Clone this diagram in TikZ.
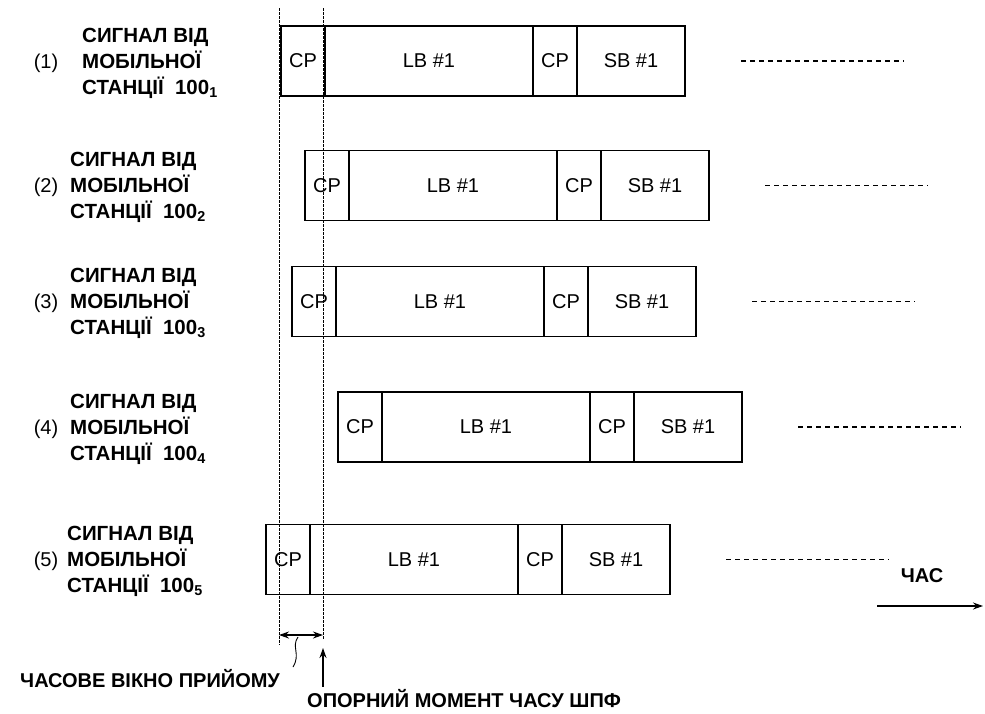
\documentclass[tikz,border=0pt]{standalone}
\usepackage{fontspec}
\setmainfont{Liberation Sans}
\usetikzlibrary{positioning,arrows.meta}

\begin{document}
\begin{tikzpicture}[x=1pt, y=-1pt,
  seg/.style={draw, line width=1.3pt, minimum height=70pt, inner sep=0, outer sep=0,
              font=\fontsize{20}{22}\selectfont},
  sig/.style={align=left, inner sep=0, font=\fontsize{20.5}{26}\selectfont\bfseries},
  num/.style={inner sep=0, font=\fontsize{20}{22}\selectfont},
  lab/.style={inner sep=0, font=\fontsize{20}{24}\selectfont\bfseries},
  trail/.style={line width=1.6pt, dash pattern=on 5pt off 4pt},
  guide/.style={line width=0.8pt, dash pattern=on 3pt off 1pt},
  arr/.style={-{Stealth[length=10pt, width=7pt]}, line width=1.2pt},
  dbl/.style={{Stealth[length=10pt, width=7pt]}-{Stealth[length=10pt, width=7pt]}, line width=1.2pt}]
\useasboundingbox (0,0) rectangle (985,713);
\foreach \r/\bx/\y/\tx in {1/281/61/82, 2/305/185.5/70, 3/292/301.5/70,
                           4/338/427/70, 5/266/559.5/67} {
  \node[seg, minimum width=44pt, anchor=west] (cpa\r) at (\bx,\y) {CP};
  \node[seg, minimum width=208pt, right=0pt of cpa\r] (lb\r) {LB \#1};
  \node[seg, minimum width=44pt, right=0pt of lb\r] (cpb\r) {CP};
  \node[seg, minimum width=108pt, right=0pt of cpb\r] (sb\r) {SB \#1};
  \draw[trail] ([xshift=56pt]sb\r.east) -- ++(163pt,0);
  \node[sig, anchor=west] (s\r) at (\tx,\y+2) {СИГНАЛ ВІД\\МОБІЛЬНОЇ\\СТАНЦІЇ\ \ 100\textsubscript{\r}};
  \node[num] (n\r) at (46,\y+2) {(\r)};
}
\coordinate (gl0) at (279,8);
\coordinate (gl1) at (279,645);
\coordinate (gr0) at (323,8);
\coordinate (gr1) at (323,640);
\draw[guide] (gl0) -- (gl1);
\draw[guide] (gr0) -- (gr1);
\coordinate (wl) at (279,635);
\coordinate (wr) at (323,635);
\coordinate (wm) at (298,637);
\coordinate (sq) at (293,667);
\coordinate (rt) at (323,648);
\draw[dbl] (wl) -- (wr);
\draw[line width=0.9pt] (wm) .. controls (291,647) and (301,654) .. (sq);
\node[lab, anchor=west] (win) at (20,679) {ЧАСОВЕ ВІКНО ПРИЙОМУ};
\node[lab, anchor=west] (ref) at (307,699) {ОПОРНИЙ МОМЕНТ ЧАСУ ШПФ};
\draw[arr] ([xshift=16pt, yshift=3pt]ref.north west) -- (rt);
\node[lab] (time) at (922,576) {ЧАС};
\coordinate (t0) at (877,606);
\coordinate (t1) at (983,606);
\draw[arr] (t0) -- (t1);
\end{tikzpicture}
\end{document}
